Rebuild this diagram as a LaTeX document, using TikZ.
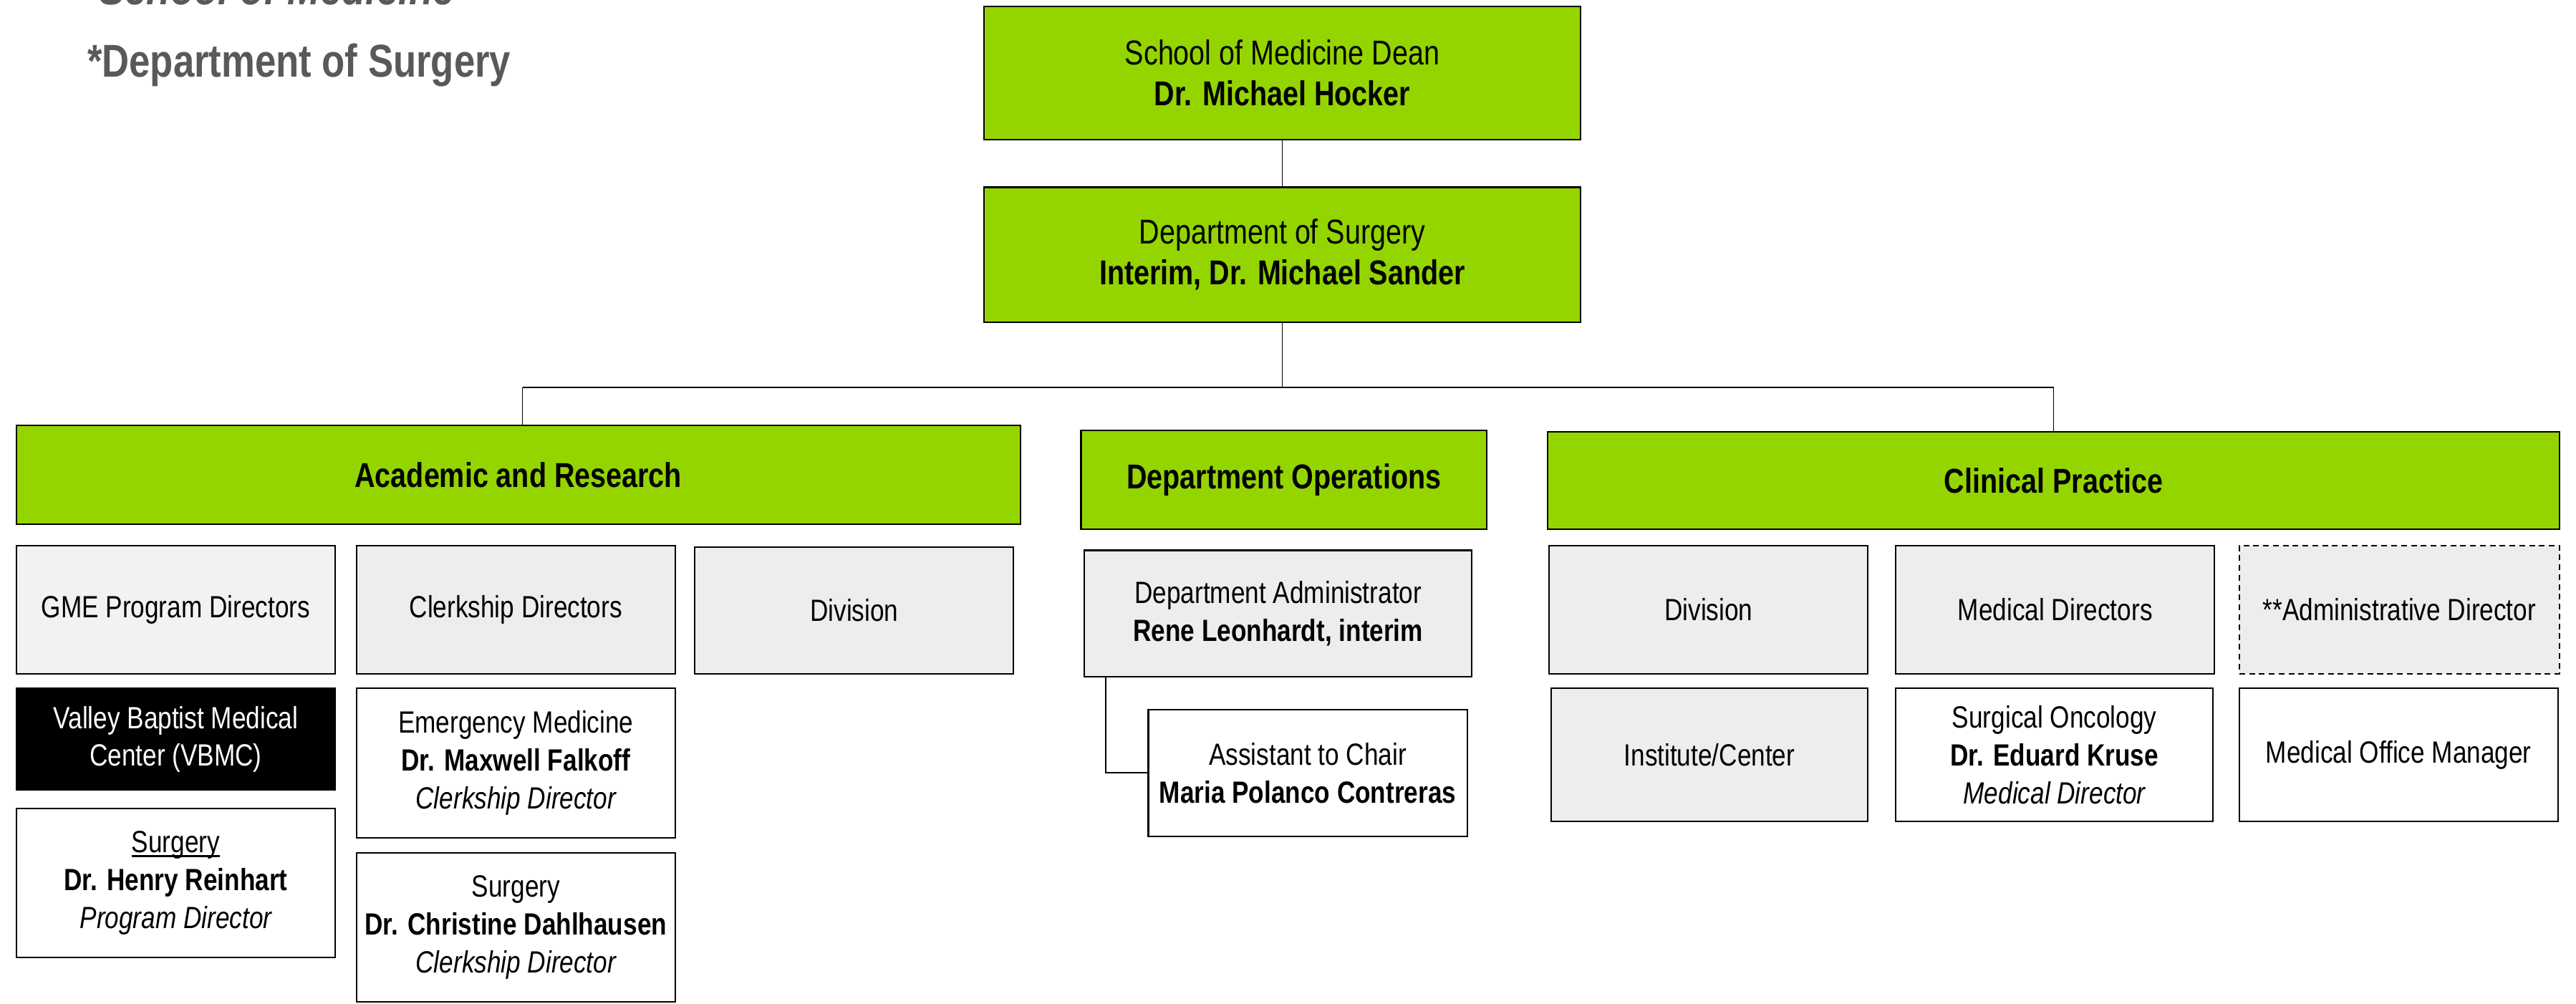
\documentclass[tikz,border=0pt]{standalone}
\usepackage{fontspec}
\setmainfont{Liberation Sans}[FakeStretch=0.82]
\definecolor{hdrgreen}{RGB}{148,213,0}
\definecolor{boxgray}{RGB}{237,237,237}
\definecolor{boxgraylt}{RGB}{242,242,242}
\definecolor{titlegray}{RGB}{89,89,89}
\newcommand{\subfnt}{\fontsize{18.7}{23}\selectfont}
\newcommand{\topfnt}{\fontsize{21}{25}\selectfont}
\newcommand{\ulin}[1]{\setbox0\hbox{#1}\rlap{\rule[-2.6pt]{\wd0}{1.3pt}}\box0}
\begin{document}
\begin{tikzpicture}[x=1pt,y=-1pt,
  box/.style={draw=black, line width=0.9pt, inner sep=1pt, align=center, font=\subfnt},
  grn/.style={box, fill=hdrgreen, font=\topfnt},
  gbox/.style={box, fill=boxgray},
  wbox/.style={box, fill=white},
  bbox/.style={box, fill=black, text=white},
  dbox/.style={box, fill=boxgray, dash pattern=on 3.5pt off 2.5pt},
  conn/.style={draw=black, line width=0.8pt},
  ttl/.style={anchor=base west, inner sep=0pt, text=titlegray, font=\fontsize{28}{30}\selectfont\bfseries}]
\useasboundingbox (0,0) rectangle (1568,611);

% titles
\node[ttl, font=\fontsize{29}{30}\selectfont\bfseries\itshape] (school) at (60,3) {School of Medicine};
\node[ttl] (title) at (53,47) {*Department of Surgery};

% top boxes
\node[grn, minimum width=363pt, minimum height=81pt] (dean) at (780.5,44.5)
  {School of Medicine Dean\\\bfseries Dr. Michael Hocker};
\node[grn, minimum width=363pt, minimum height=82pt] (dept) at (780.5,155)
  {Department of Surgery\\\bfseries Interim, Dr. Michael Sander};

% division headers
\node[grn, font=\topfnt\bfseries, minimum width=611pt, minimum height=60pt] (acad) at (315.5,289) {Academic and Research};
\node[grn, font=\topfnt\bfseries, minimum width=247pt, minimum height=60pt] (ops) at (781.5,292) {Department Operations};
\node[grn, font=\topfnt\bfseries, minimum width=616pt, minimum height=59pt] (clin) at (1250,292.5) {Clinical Practice};

% bus
\coordinate (busL) at (318,236);
\coordinate (busR) at (1250,236);
\draw[conn] (dean.south) -- (dept.north);
\draw[conn] (dept.south) -- (dept.south |- busL);
\draw[conn] (busL) -- (busR);
\draw[conn] (busL) -- (busL |- acad.north);
\draw[conn] (busR) -- (busR |- clin.north);

% academic column
\node[box, fill=boxgraylt, minimum width=194pt, minimum height=78pt] (gme) at (107,371) {GME Program Directors};
\node[gbox, minimum width=194pt, minimum height=78pt] (clerk) at (314,371) {Clerkship Directors};
\node[gbox, minimum width=194pt, minimum height=77pt] (adiv) at (520,371.5) {Division};
\node[bbox, minimum width=194pt, minimum height=62pt] (vbmc) at (107,450) {Valley Baptist Medical\\Center (VBMC)};
\node[wbox, minimum width=194pt, minimum height=91pt] (reinhart) at (107,537.5)
  {\ulin{Surgery}\\\bfseries Dr. Henry Reinhart\\\mdseries\itshape Program Director};
\node[wbox, minimum width=194pt, minimum height=91pt] (falkoff) at (314,464.5)
  {Emergency Medicine\\\bfseries Dr. Maxwell Falkoff\\\mdseries\itshape Clerkship Director};
\node[wbox, minimum width=194pt, minimum height=91pt] (dahl) at (314,564.5)
  {Surgery\\\bfseries Dr. Christine Dahlhausen\\\mdseries\itshape Clerkship Director};

% operations column
\node[gbox, minimum width=236pt, minimum height=77pt] (admin) at (778,373.5)
  {Department Administrator\\\bfseries Rene Leonhardt, interim};
\node[wbox, minimum width=194pt, minimum height=77pt] (asst) at (796,470.5)
  {Assistant to Chair\\\bfseries Maria Polanco Contreras};
\coordinate (elb) at (673,470.5);
\draw[conn] (admin.south -| elb) -- (elb) -- (asst.west);

% clinical column
\node[gbox, minimum width=194pt, minimum height=78pt] (cdiv) at (1040,371) {Division};
\node[gbox, minimum width=194pt, minimum height=78pt] (meddir) at (1251,371) {Medical Directors};
\node[dbox, minimum width=195pt, minimum height=78pt] (admdir) at (1460.5,371) {**Administrative Director};
\node[gbox, minimum width=193pt, minimum height=81pt] (inst) at (1040.5,459.5) {Institute/Center};
\node[wbox, minimum width=193pt, minimum height=81pt] (onc) at (1250.5,459.5)
  {Surgical Oncology\\\bfseries Dr. Eduard Kruse\\\mdseries\itshape Medical Director};
\node[wbox, minimum width=194pt, minimum height=81pt] (mom) at (1460,459.5) {Medical Office Manager};
\end{tikzpicture}
\end{document}
